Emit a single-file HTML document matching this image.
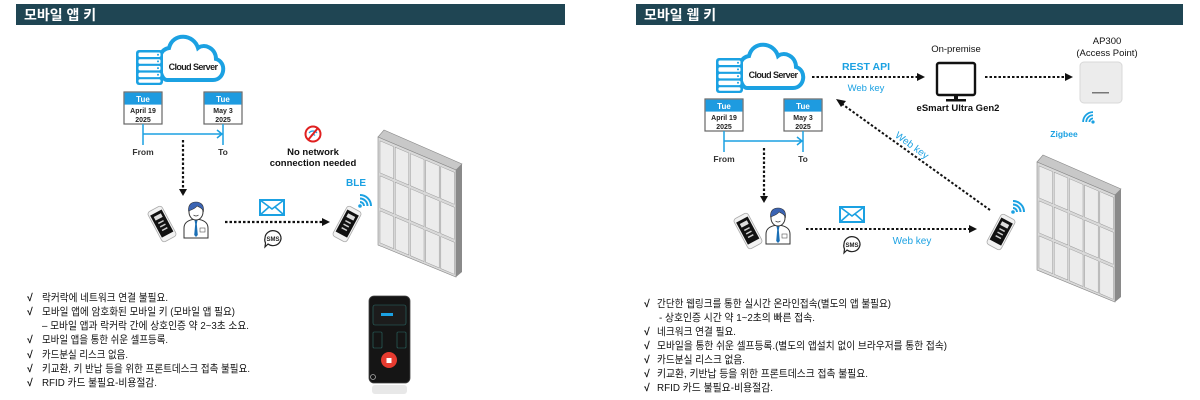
<!DOCTYPE html>
<html><head><meta charset="utf-8"><style>
html,body{margin:0;padding:0;background:#fff;}
svg{display:block;font-family:"Liberation Sans","Noto Sans CJK KR",sans-serif;}
</style></head><body>
<svg width="1200" height="400" viewBox="0 0 1200 400" xmlns="http://www.w3.org/2000/svg">
<defs>
  <g id="cloud">
    <path d="M10,46 L56,46 C68,46 70,28 59,25 C59,14 47,9 41,14 C37,0 16,-2 12,14 C4,15 0,25 3,34 C4,42 7,46 10,46 Z" fill="#fff" stroke="#1ba1e2" stroke-width="4"/>
  </g>
  <g id="server">
    <rect x="0" y="0" width="27" height="35" rx="3" fill="#1ba1e2"/>
    <rect x="2.5" y="2.5" width="22" height="4.5" rx="1.5" fill="#fff"/>
    <rect x="2.5" y="9.2" width="22" height="4.5" rx="1.5" fill="#fff"/>
    <rect x="2.5" y="15.9" width="22" height="4.5" rx="1.5" fill="#fff"/>
    <rect x="2.5" y="22.6" width="22" height="4.5" rx="1.5" fill="#fff"/>
    <rect x="2.5" y="29.3" width="22" height="3.5" rx="1.5" fill="#fff"/>
    <circle cx="22" cy="4.7" r="1" fill="#1ba1e2"/><circle cx="22" cy="11.4" r="1" fill="#1ba1e2"/>
    <circle cx="22" cy="18.1" r="1" fill="#1ba1e2"/><circle cx="22" cy="24.8" r="1" fill="#1ba1e2"/>
  </g>
  <g id="cal">
    <rect x="0" y="0" width="38" height="32" fill="#fff" stroke="#666" stroke-width="1.2"/>
    <rect x="0.6" y="0.6" width="36.8" height="12" fill="#1e9be0"/>
  </g>
  <g id="phone">
    <rect x="-8" y="-17" width="16" height="34" rx="3" fill="#f2f2f2" stroke="#aaa" stroke-width="0.8"/>
    <rect x="-6.5" y="-13" width="13" height="25" fill="#111"/>
    <rect x="-4" y="-10" width="8" height="4" fill="#ddd"/>
    <rect x="-3" y="-3" width="6" height="1.5" fill="#ccc"/>
    <rect x="-3" y="1" width="6" height="1.5" fill="#ccc"/>
    <rect x="-3" y="5" width="6" height="1.5" fill="#ccc"/>
  </g>
  <g id="person">
    <path d="M1,36 L1,26 C1,20 6,18 12,17 L14,17 C20,18 25,20 25,26 L25,36 Z" fill="#fff" stroke="#333" stroke-width="1"/>
    <path d="M11.5,18 L14.5,18 L13.8,22 L14.8,33 L13,35 L11.2,33 L12.2,22 Z" fill="#1b6fb5"/>
    <rect x="17" y="26" width="5" height="4" fill="#fff" stroke="#555" stroke-width="0.6"/>
    <ellipse cx="13" cy="10" rx="7" ry="8" fill="#fff" stroke="#333" stroke-width="1"/>
    <path d="M5.5,9 C5,2 9,0 13,0 C18,0 21,3 20.5,9 C19,6 16,5 14,4 C12,7 8,8 5.5,9 Z" fill="#3b64b3" stroke="#333" stroke-width="0.6"/>
    <path d="M10.5,13 Q13,15 15.5,13" fill="none" stroke="#333" stroke-width="0.7"/>
  </g>
  <g id="env">
    <rect x="1" y="1" width="24" height="15" fill="#fff" stroke="#1ba1e2" stroke-width="2"/>
    <path d="M1,1 L13,10 L25,1 M1,16 L10,8 M25,16 L16,8" fill="none" stroke="#1ba1e2" stroke-width="1.6"/>
  </g>
  <g id="sms">
    <path d="M0,0 m-8,0 a8,7.5 0 1 1 3,6 l-3,3 l0.5,-4 a8,7.5 0 0 1 -0.5,-5 z" fill="#fff" stroke="#222" stroke-width="1.2"/>
    <text x="0" y="2.8" font-size="6" font-weight="bold" text-anchor="middle" fill="#222">SMS</text>
  </g>
  <g id="wifi">
    <circle cx="0" cy="0" r="1.8" fill="#1ba1e2"/>
    <path d="M4,0 A4,4 0 0 0 0,-4 M7.5,0 A7.5,7.5 0 0 0 0,-7.5 M11,0 A11,11 0 0 0 0,-11" fill="none" stroke="#1ba1e2" stroke-width="2"/>
  </g>
  <g id="locker">
    <path d="M0,0 L6,-7 L84,27 L78,33 Z" fill="#c8c8c8" stroke="#888" stroke-width="0.6"/>
    <path d="M78,33 L84,27 L84,135 L78,140 Z" fill="#8a8a8a"/>
    <path d="M0,0 L78,33 L78,140 L0,108 Z" fill="#d9d9d9" stroke="#888" stroke-width="0.6"/>
    <g transform="matrix(1,0.423,0,1,0,0)" fill="#ececec" stroke="#999" stroke-width="0.5">
      <rect x="2" y="3" width="13.6" height="32"/><rect x="17.2" y="3" width="13.6" height="32"/><rect x="32.4" y="3" width="13.6" height="32"/><rect x="47.6" y="3" width="13.6" height="32"/><rect x="62.8" y="3" width="13.6" height="32"/>
      <rect x="2" y="38" width="13.6" height="32"/><rect x="17.2" y="38" width="13.6" height="32"/><rect x="32.4" y="38" width="13.6" height="32"/><rect x="47.6" y="38" width="13.6" height="32"/><rect x="62.8" y="38" width="13.6" height="32"/>
      <rect x="2" y="73" width="13.6" height="32"/><rect x="17.2" y="73" width="13.6" height="32"/><rect x="32.4" y="73" width="13.6" height="32"/><rect x="47.6" y="73" width="13.6" height="32"/><rect x="62.8" y="73" width="13.6" height="32"/>
    </g>
  </g>
  <marker id="ah" markerWidth="6" markerHeight="6" refX="3" refY="3" orient="auto" markerUnits="userSpaceOnUse"><path d="M0,0 L6,3 L0,6 Z" fill="#111"/></marker>
</defs>

<!-- ================= LEFT ================= -->
<rect x="16" y="4" width="549" height="21" fill="#1f4553"/>
<text x="24" y="20" font-size="14" font-weight="bold" fill="#fff">모바일 앱 키</text>

<use href="#cloud" x="157" y="34"/>
<use href="#server" x="136" y="50"/>
<text x="193" y="70" font-size="9" font-weight="bold" text-anchor="middle" fill="#222" letter-spacing="-0.6">Cloud Server</text>

<use href="#cal" x="124" y="92"/>
<text x="143" y="102" font-size="8" font-weight="bold" fill="#fff" text-anchor="middle">Tue</text>
<text x="143" y="113" font-size="7" font-weight="bold" fill="#222" text-anchor="middle">April 19</text>
<text x="143" y="122" font-size="7" font-weight="bold" fill="#222" text-anchor="middle">2025</text>
<use href="#cal" x="204" y="92"/>
<text x="223" y="102" font-size="8" font-weight="bold" fill="#fff" text-anchor="middle">Tue</text>
<text x="223" y="113" font-size="7" font-weight="bold" fill="#222" text-anchor="middle">May 3</text>
<text x="223" y="122" font-size="7" font-weight="bold" fill="#222" text-anchor="middle">2025</text>
<path d="M143,124 V145 M223,124 V145 M143,134 H222 M217,130 L222,134 L217,138" fill="none" stroke="#1ba1e2" stroke-width="1.5"/>
<text x="143" y="155" font-size="8.5" font-weight="bold" fill="#333" text-anchor="middle">From</text>
<text x="223" y="155" font-size="8.5" font-weight="bold" fill="#333" text-anchor="middle">To</text>

<line x1="183" y1="140" x2="183" y2="190" stroke="#111" stroke-width="2.2" stroke-dasharray="2.5,2"/>
<path d="M179,189 L187,189 L183,196 Z" fill="#111"/>

<use href="#phone" transform="translate(162,224) rotate(-28)"/>
<use href="#person" x="183" y="202"/>

<line x1="225" y1="222" x2="322" y2="222" stroke="#111" stroke-width="2.2" stroke-dasharray="2.5,2"/>
<path d="M322,218 L330,222 L322,226 Z" fill="#111"/>
<use href="#env" x="259" y="199"/>
<use href="#sms" x="273" y="238"/>

<circle cx="313" cy="134" r="7.5" fill="#fff" stroke="#e02020" stroke-width="2"/>
<path d="M309,133 A5,5 0 0 1 317,133 M311,135.5 A2.5,2.5 0 0 1 315,135.5" fill="none" stroke="#1ba1e2" stroke-width="1.2"/>
<line x1="308" y1="140" x2="318" y2="128" stroke="#e02020" stroke-width="2"/>
<text x="313" y="155" font-size="9.5" font-weight="bold" fill="#111" text-anchor="middle">No network</text>
<text x="313" y="166" font-size="9.5" font-weight="bold" fill="#111" text-anchor="middle">connection needed</text>

<text x="356" y="186" font-size="10" font-weight="bold" fill="#1ba1e2" text-anchor="middle">BLE</text>
<use href="#wifi" x="360" y="206"/>
<use href="#phone" transform="translate(347,224) rotate(28)"/>

<use href="#locker" x="378" y="137"/>

<g font-size="10.5" fill="#111">
<text x="27" y="301" font-weight="bold">√</text><text x="42" y="301" textLength="126" lengthAdjust="spacingAndGlyphs">락커락에 네트워크 연결 불필요.</text>
<text x="27" y="315" font-weight="bold">√</text><text x="42" y="315" textLength="193" lengthAdjust="spacingAndGlyphs">모바일 앱에 암호화된 모바일 키 (모바일 앱 필요)</text>
<text x="42" y="329" textLength="207" lengthAdjust="spacingAndGlyphs">– 모바일 앱과 락커락 간에 상호인증 약 2~3초 소요.</text>
<text x="27" y="343" font-weight="bold">√</text><text x="42" y="343" textLength="126" lengthAdjust="spacingAndGlyphs">모바일 앱을 통한 쉬운 셀프등록.</text>
<text x="27" y="358" font-weight="bold">√</text><text x="42" y="358" textLength="86" lengthAdjust="spacingAndGlyphs">카드분실 리스크 없음.</text>
<text x="27" y="372" font-weight="bold">√</text><text x="42" y="372" textLength="208" lengthAdjust="spacingAndGlyphs">키교환, 키 반납 등을 위한 프론트데스크 접촉 불필요.</text>
<text x="27" y="386" font-weight="bold">√</text><text x="42" y="386" textLength="115" lengthAdjust="spacingAndGlyphs">RFID 카드 불필요-비용절감.</text>
</g>

<!-- phone app image -->
<rect x="369" y="296" width="41" height="87" rx="5" fill="#151515" stroke="#444" stroke-width="0.8"/>
<rect x="373" y="305" width="33" height="20" rx="2" fill="#1c1c1c" stroke="#2c6e6a" stroke-width="0.6"/>
<rect x="381" y="313" width="12" height="3" fill="#1ba1e2"/>
<rect x="373" y="332" width="9" height="16" rx="1" fill="none" stroke="#2c6e6a" stroke-width="0.6"/>
<rect x="397" y="332" width="9" height="16" rx="1" fill="none" stroke="#2c6e6a" stroke-width="0.6"/>
<circle cx="389" cy="360" r="8" fill="#e63b30"/>
<rect x="386.5" y="358" width="5" height="5" fill="#fff"/>
<circle cx="373" cy="377" r="2.5" fill="none" stroke="#aaa" stroke-width="0.8"/>
<rect x="372" y="385" width="35" height="9" rx="3" fill="#e8e8e8"/>

<!-- ================= RIGHT ================= -->
<rect x="636" y="4" width="547" height="21" fill="#1f4553"/>
<text x="644" y="20" font-size="14" font-weight="bold" fill="#fff">모바일 웹 키</text>

<use href="#cloud" x="737" y="42"/>
<use href="#server" x="716" y="58"/>
<text x="773" y="78" font-size="9" font-weight="bold" text-anchor="middle" fill="#222" letter-spacing="-0.6">Cloud Server</text>

<use href="#cal" x="705" y="99"/>
<text x="724" y="109" font-size="8" font-weight="bold" fill="#fff" text-anchor="middle">Tue</text>
<text x="724" y="120" font-size="7" font-weight="bold" fill="#222" text-anchor="middle">April 19</text>
<text x="724" y="129" font-size="7" font-weight="bold" fill="#222" text-anchor="middle">2025</text>
<use href="#cal" x="784" y="99"/>
<text x="803" y="109" font-size="8" font-weight="bold" fill="#fff" text-anchor="middle">Tue</text>
<text x="803" y="120" font-size="7" font-weight="bold" fill="#222" text-anchor="middle">May 3</text>
<text x="803" y="129" font-size="7" font-weight="bold" fill="#222" text-anchor="middle">2025</text>
<path d="M724,131 V152 M803,131 V152 M724,141 H802 M797,137 L802,141 L797,145" fill="none" stroke="#1ba1e2" stroke-width="1.5"/>
<text x="724" y="162" font-size="8.5" font-weight="bold" fill="#333" text-anchor="middle">From</text>
<text x="803" y="162" font-size="8.5" font-weight="bold" fill="#333" text-anchor="middle">To</text>

<line x1="764" y1="148" x2="764" y2="197" stroke="#111" stroke-width="2.2" stroke-dasharray="2.5,2"/>
<path d="M760,196 L768,196 L764,203 Z" fill="#111"/>

<use href="#phone" transform="translate(748,231) rotate(-28)"/>
<use href="#person" x="765" y="208"/>

<line x1="806" y1="229" x2="969" y2="229" stroke="#111" stroke-width="2" stroke-dasharray="2.5,2"/>
<path d="M969,225 L977,229 L969,233 Z" fill="#111"/>
<use href="#env" x="839" y="206"/>
<use href="#sms" x="852" y="244"/>
<text x="912" y="244" font-size="10" fill="#1ba1e2" text-anchor="middle">Web key</text>

<line x1="812" y1="77" x2="917" y2="77" stroke="#111" stroke-width="2" stroke-dasharray="2.5,2"/>
<path d="M917,73 L925,77 L917,81 Z" fill="#111"/>
<text x="866" y="70" font-size="10.5" font-weight="bold" fill="#1ba1e2" text-anchor="middle">REST API</text>
<text x="866" y="91" font-size="9.5" fill="#1ba1e2" text-anchor="middle">Web key</text>

<rect x="937" y="63" width="38" height="32" rx="2" fill="#fff" stroke="#111" stroke-width="2.4"/>
<rect x="954" y="95" width="4" height="4" fill="#111"/>
<rect x="946" y="99" width="20" height="2.5" fill="#111"/>
<text x="956" y="52" font-size="9.5" fill="#111" text-anchor="middle">On-premise</text>
<text x="958" y="111" font-size="9.5" font-weight="bold" fill="#111" text-anchor="middle">eSmart Ultra Gen2</text>

<line x1="985" y1="77" x2="1065" y2="77" stroke="#111" stroke-width="2" stroke-dasharray="2.5,2"/>
<path d="M1065,73 L1073,77 L1065,81 Z" fill="#111"/>

<text x="1107" y="44" font-size="9.5" fill="#111" text-anchor="middle">AP300</text>
<text x="1107" y="56" font-size="9.5" fill="#111" text-anchor="middle">(Access Point)</text>
<rect x="1080" y="62" width="42" height="41" rx="4" fill="#ececec" stroke="#d8d8d8" stroke-width="1"/>
<rect x="1092" y="92" width="17" height="1.5" fill="#777"/>
<use href="#wifi" transform="translate(1093,122) rotate(-90) scale(0.9)"/>
<text x="1064" y="137" font-size="8.5" font-weight="bold" fill="#1ba1e2" text-anchor="middle">Zigbee</text>

<line x1="990" y1="210" x2="842" y2="104" stroke="#111" stroke-width="2" stroke-dasharray="2.5,2"/>
<path d="M836,99 L846,101 L841,107 Z" fill="#111"/>
<text transform="translate(910,148) rotate(36)" font-size="10" fill="#1ba1e2" text-anchor="middle">Web key</text>

<use href="#wifi" x="1013" y="212"/>
<use href="#phone" transform="translate(1001,232) rotate(28)"/>

<use href="#locker" x="1037" y="162"/>

<g font-size="10.5" fill="#111">
<text x="644" y="307" font-weight="bold">√</text><text x="657" y="307" textLength="234" lengthAdjust="spacingAndGlyphs">간단한 웹링크를 통한 실시간 온라인접속(별도의 앱 불필요)</text>
<text x="659" y="321" textLength="156" lengthAdjust="spacingAndGlyphs">- 상호인증 시간 약 1~2초의 빠른 접속.</text>
<text x="644" y="335" font-weight="bold">√</text><text x="657" y="335" textLength="79" lengthAdjust="spacingAndGlyphs">네크워크 연결 필요.</text>
<text x="644" y="349" font-weight="bold">√</text><text x="657" y="349" textLength="290" lengthAdjust="spacingAndGlyphs">모바일을 통한 쉬운 셀프등록.(별도의 앱설치 없이 브라우저를 통한 접속)</text>
<text x="644" y="363" font-weight="bold">√</text><text x="657" y="363" textLength="88" lengthAdjust="spacingAndGlyphs">카드분실 리스크 없음.</text>
<text x="644" y="377" font-weight="bold">√</text><text x="657" y="377" textLength="211" lengthAdjust="spacingAndGlyphs">키교환, 키반납 등을 위한 프론트데스크 접촉 불필요.</text>
<text x="644" y="391" font-weight="bold">√</text><text x="657" y="391" textLength="116" lengthAdjust="spacingAndGlyphs">RFID 카드 불필요-비용절감.</text>
</g>
</svg>
</body></html>
